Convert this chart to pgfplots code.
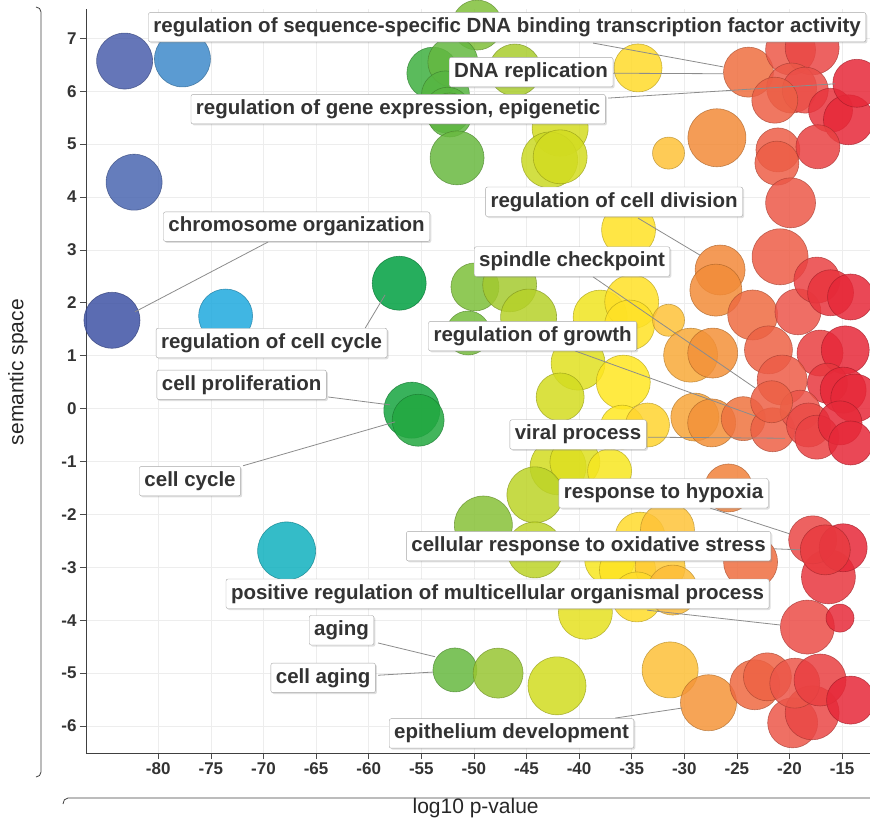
\documentclass[border=0pt]{standalone}
\usepackage{pgfplots}
\pgfplotsset{compat=1.18}
\usepackage{pgfplotstable}
\usepackage{fontspec}
\setmainfont{Liberation Sans}
\usetikzlibrary{shadows}

\pgfplotstableread{
x y r
-83.2 6.57 28
-77.7 6.61 28
-82.3 4.28 28
-84.4 1.67 28
-73.6 1.75 27
-67.8 -2.69 29
-57.1 2.37 27
-55.9 -0.03 28
-55.3 -0.22 26
-51.8 -4.94 22
-47.7 -5.00 25
-42.1 -5.24 29
-49.7 7.25 25
-46.1 6.40 26
-53.9 6.34 26
-52.0 6.55 25
-52.7 5.93 24
-52.5 5.64 23
-52.3 5.55 22
-51.6 4.74 27
-41.8 5.30 28
-42.8 4.70 28
-41.8 4.76 27
-34.4 6.44 24
-31.5 4.83 16
-35.3 3.38 27
-26.9 5.12 29
-23.9 6.36 25
-19.9 6.78 25
-17.85 6.82 27
-19.8 6.06 25
-18.5 6.02 23
-21.4 5.83 23
-16.1 5.64 22
-14.4 5.46 25
-13.6 6.15 24
-21.1 4.89 22
-21.2 4.64 22
-17.3 4.95 22
-19.9 3.89 25
-20.9 2.87 28
-49.9 2.30 24
-46.6 2.34 27
-44.8 1.73 28
-50.55 1.43 22
-38.0 1.73 27
-35.0 2.02 27
-35.2 1.58 25
-40.1 0.86 27
-41.8 0.22 24
-35.8 0.50 27
-35.9 -0.35 22
-33.5 -0.31 22
-31.5 1.67 16
-26.6 2.62 25
-27.0 2.24 26
-23.5 1.77 25
-19.2 1.83 23
-17.4 2.43 23
-16.1 2.19 23
-14.2 2.11 23
-29.4 1.01 27
-27.3 1.05 25
-22.0 1.11 24
-17.1 1.05 23
-14.7 1.11 24
-20.7 0.54 25
-16.4 0.48 20
-29.0 -0.16 24
-27.4 -0.27 24
-24.4 -0.19 22
-21.6 -0.40 22
-19.0 -0.03 20
-18.2 -0.31 22
-17.4 -0.54 22
-14.9 0.35 23
-13.8 0.20 24
-15.2 -0.27 22
-14.2 -0.65 22
-21.7 0.13 21
-42.0 -1.10 28
-40.4 -1.01 25
-37.1 -1.18 22
-44.2 -1.63 28
-49.1 -2.20 29
-44.2 -2.67 28
-39.4 -3.85 27
-37.1 -2.85 25
-34.2 -2.43 25
-31.6 -2.29 27
-35.4 -3.05 28
-32.3 -2.99 25
-34.5 -3.56 25
-31.1 -3.43 25
-25.8 -1.50 24
-23.7 -2.90 27
-16.3 -3.18 27
-17.8 -2.48 24
-14.9 -2.63 24
-16.6 -2.67 25
-18.3 -4.13 27
-15.2 -3.96 14
-31.35 -4.94 28
-27.7 -5.56 28
-23.3 -5.22 25
-22.1 -5.07 24
-19.7 -5.94 25
-17.85 -5.75 27
-19.5 -5.19 25
-17.1 -5.13 26
-14.2 -5.51 24
}\bubbles

\pgfplotsset{colormap={bub}{rgb255(0pt)=(56,76,160) rgb255(2pt)=(76,96,172) rgb255(7pt)=(64,136,200) rgb255(11pt)=(32,168,224) rgb255(17pt)=(16,176,192) rgb255(28pt)=(0,160,64) rgb255(33pt)=(100,184,64) rgb255(38pt)=(160,200,48) rgb255(43pt)=(210,220,32) rgb255(49pt)=(255,232,32) rgb255(53pt)=(255,200,56) rgb255(58pt)=(242,140,56) rgb255(62pt)=(238,102,66) rgb255(66pt)=(236,84,74) rgb255(70pt)=(230,40,56)}}

\tikzset{lab/.style={draw=black!35, fill=white, rounded corners=2pt, inner xsep=5pt, inner ysep=5pt,
  text height=15pt, text depth=4.5pt,
  font=\bfseries\fontsize{20.5}{20.5}\selectfont, text=black!80,
  drop shadow={shadow xshift=1.5pt, shadow yshift=-1.5pt, opacity=0.25}},
  conn/.style={draw=black!45, line width=0.8pt}}

\begin{document}
\begin{tikzpicture}
\useasboundingbox (-86pt,-72pt) rectangle (784pt,753pt);
\begin{axis}[
  scale only axis, width=784pt, height=744pt,
  xmin=-86.87, xmax=-12.35, ymin=-6.51, ymax=7.554,
  clip mode=individual,
  axis x line*=bottom, axis y line*=left,
  axis line style={draw=black!75, line width=0.8pt, -},
  tick align=outside, major tick length=6pt,
  tick style={draw=black!70, line width=0.7pt},
  grid=major, major grid style={draw=black!7, line width=0.6pt},
  xtick={-80,-75,-70,-65,-60,-55,-50,-45,-40,-35,-30,-25,-20,-15},
  xticklabels={-80,-75,-70,-65,-60,-55,-50,-45,-40,-35,-30,-25,-20,-15},
  ytick={-6,-5,-4,-3,-2,-1,0,1,2,3,4,5,6,7},
  yticklabels={-6,-5,-4,-3,-2,-1,0,1,2,3,4,5,6,7},
  ticklabel style={font=\bfseries\fontsize{17}{17}\selectfont, text=black!80},
  colormap name=bub, point meta min=-85, point meta max=-15,
]
\addplot[scatter, only marks, mark=*,
  point meta=\thisrow{x},
  scatter/use mapped color={draw=mapped color!70!black, fill=mapped color},
  visualization depends on={\thisrow{r}\as\rad},
  scatter/@pre marker code/.append style={/tikz/mark size=\rad},
  mark options={fill opacity=0.85, draw opacity=0.7, line width=0.6pt}]
  table[x=x, y=y] {\bubbles};

\draw[conn] (axis cs:-38.67,6.91) -- (axis cs:-26.31,6.46);
\draw[conn] (axis cs:-36.86,6.34) -- (axis cs:-26.31,6.33);
\draw[conn] (axis cs:-37.24,5.87) -- (axis cs:-15.67,6.14);
\draw[conn] (axis cs:-34.39,3.60) -- (axis cs:-28.5,2.90);
\draw[conn] (axis cs:-69.56,3.15) -- (axis cs:-82.21,1.83);
\draw[conn] (axis cs:-38.67,2.49) -- (axis cs:-23.27,0.39);
\draw[conn] (axis cs:-60.34,1.52) -- (axis cs:-58.44,2.15);
\draw[conn] (axis cs:-40.38,1.09) -- (axis cs:-23.27,-0.14);
\draw[conn] (axis cs:-63.86,0.22) -- (axis cs:-57.97,0.07);
\draw[conn] (axis cs:-33.44,-0.54) -- (axis cs:-20.42,-0.56);
\draw[conn] (axis cs:-71.94,-1.08) -- (axis cs:-57.49,-0.25);
\draw[conn] (axis cs:-27.55,-1.88) -- (axis cs:-19.94,-2.37);
\draw[conn] (axis cs:-21.46,-2.65) -- (axis cs:-18.99,-2.67);
\draw[conn] (axis cs:-33.54,-3.81) -- (axis cs:-20.89,-4.09);
\draw[conn] (axis cs:-59.11,-4.43) -- (axis cs:-53.69,-4.69);
\draw[conn] (axis cs:-59.11,-5.04) -- (axis cs:-53.88,-4.98);
\draw[conn] (axis cs:-36.58,-5.85) -- (axis cs:-30.21,-5.66);

\node[lab] at (axis cs:-46.84,7.21) {regulation of sequence-specific DNA binding transcription factor activity};
\node[lab] at (axis cs:-44.56,6.36) {DNA replication};
\node[lab] at (axis cs:-57.2,5.66) {regulation of gene expression, epigenetic};
\node[lab] at (axis cs:-36.67,3.91) {regulation of cell division};
\node[lab] at (axis cs:-66.85,3.44) {chromosome organization};
\node[lab] at (axis cs:-40.67,2.78) {spindle checkpoint};
\node[lab] at (axis cs:-69.23,1.24) {regulation of cell cycle};
\node[lab] at (axis cs:-44.42,1.37) {regulation of growth};
\node[lab] at (axis cs:-72.08,0.45) {cell proliferation};
\node[lab] at (axis cs:-40.1,-0.49) {viral process};
\node[lab] at (axis cs:-76.98,-1.37) {cell cycle};
\node[lab] at (axis cs:-31.97,-1.6) {response to hypoxia};
\node[lab] at (axis cs:-39.1,-2.6) {cellular response to oxidative stress};
\node[lab] at (axis cs:-47.75,-3.5) {positive regulation of multicellular organismal process};
\node[lab] at (axis cs:-62.58,-4.19) {aging};
\node[lab] at (axis cs:-64.33,-5.09) {cell aging};
\node[lab] at (axis cs:-46.42,-6.14) {epithelium development};

\node[font=\fontsize{21}{21}\selectfont, text=black!85] at (rel axis cs:0.497,-0.074) {log10 p-value};
\node[font=\fontsize{21}{21}\selectfont, text=black!85, rotate=90] at (rel axis cs:-0.0867,0.512) {semantic space};
\end{axis}
\draw[black!75, line width=0.8pt] (-50pt,746pt) to[out=0,in=90] (-45pt,741pt) -- (-45pt,-19pt) to[out=-90,in=0] (-50pt,-24pt);
\draw[black!75, line width=0.8pt] (-23pt,-51pt) to[out=90,in=180] (-18pt,-45pt) -- (790pt,-45pt);
\end{tikzpicture}
\end{document}
